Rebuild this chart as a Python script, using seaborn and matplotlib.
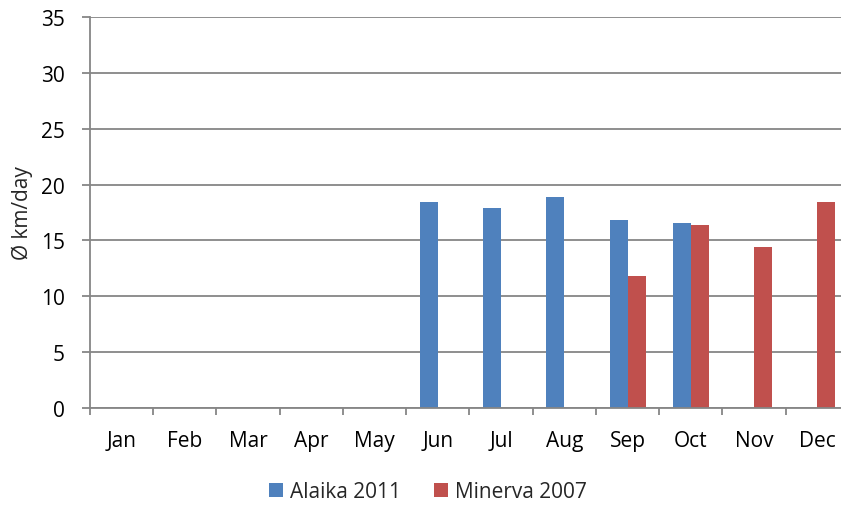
import matplotlib
matplotlib.use("Agg")
import matplotlib.pyplot as plt
from matplotlib.patches import Patch
import seaborn as sns
import pandas as pd
import numpy as np

months = ["Jan", "Feb", "Mar", "Apr", "May", "Jun", "Jul", "Aug", "Sep", "Oct", "Nov", "Dec"]
series_names = ["Alaika 2011", "Minerva 2007"]
alaika_2011 = [np.nan, np.nan, np.nan, np.nan, np.nan, 18.4, 17.9, 18.9, 16.8, 16.6, np.nan, np.nan]
minerva_2007 = [np.nan, np.nan, np.nan, np.nan, np.nan, np.nan, np.nan, np.nan, 11.8, 16.4, 14.4, 18.4]
colors = ["#4F81BD", "#C0504D"]
y_ticks = [0, 5, 10, 15, 20, 25, 30, 35]
y_label = "Ø km/day"

df = pd.DataFrame({
    "month": months * 2,
    "series": [series_names[0]] * 12 + [series_names[1]] * 12,
    "value": alaika_2011 + minerva_2007,
})

sns.set_style("white")
plt.rcParams["font.family"] = ["Open Sans", "DejaVu Sans"]

FS = 15
W, H = 841, 506
fig = plt.figure(figsize=(W / 100, H / 100), dpi=100)
ax = fig.add_axes([90 / W, (H - 409) / H, 759 / W, 391 / H])

sns.barplot(data=df, x="month", y="value", hue="series", order=months,
            hue_order=series_names, palette=colors, width=0.57, ax=ax,
            legend=False, saturation=1, linewidth=0)

grid_c = "#868686"
ax.set_ylim(0, 35)
ax.set_xlim(-0.5, 11.5)
ax.set_yticks(y_ticks)
ax.yaxis.grid(True, color=grid_c, linewidth=1.3)
ax.set_axisbelow(True)
for s in ["top", "right"]:
    ax.spines[s].set_visible(False)
for s in ["left", "bottom"]:
    ax.spines[s].set_color(grid_c)
    ax.spines[s].set_linewidth(1.3)

ax.set_xticks(np.arange(-0.5, 12, 1), minor=False)
ax.set_xticklabels([])
ax.set_xticks(np.arange(0, 12, 1), minor=True)
ax.set_xticklabels(months, minor=True)
ax.tick_params(axis="x", which="major", direction="out", length=5, width=1.3, color=grid_c, bottom=True)
ax.tick_params(axis="x", which="minor", length=0, pad=16, labelsize=FS, labelcolor="#000000")
ax.tick_params(axis="y", direction="out", length=6, width=1.3, color=grid_c, left=True, pad=12, labelsize=FS, labelcolor="#000000")
ax.set_xlabel("")
ax.set_ylabel(y_label, fontsize=FS, labelpad=6)

handles = [Patch(facecolor=c, edgecolor="none", label=n) for c, n in zip(colors, series_names)]
fig.legend(handles=handles, loc="center", bbox_to_anchor=(428 / W, 1 - 493 / H), ncol=2,
           frameon=False, fontsize=FS, handlelength=0.65, handleheight=0.65,
           handletextpad=0.35, columnspacing=1.6)

fig.savefig("out.png", dpi=100)
